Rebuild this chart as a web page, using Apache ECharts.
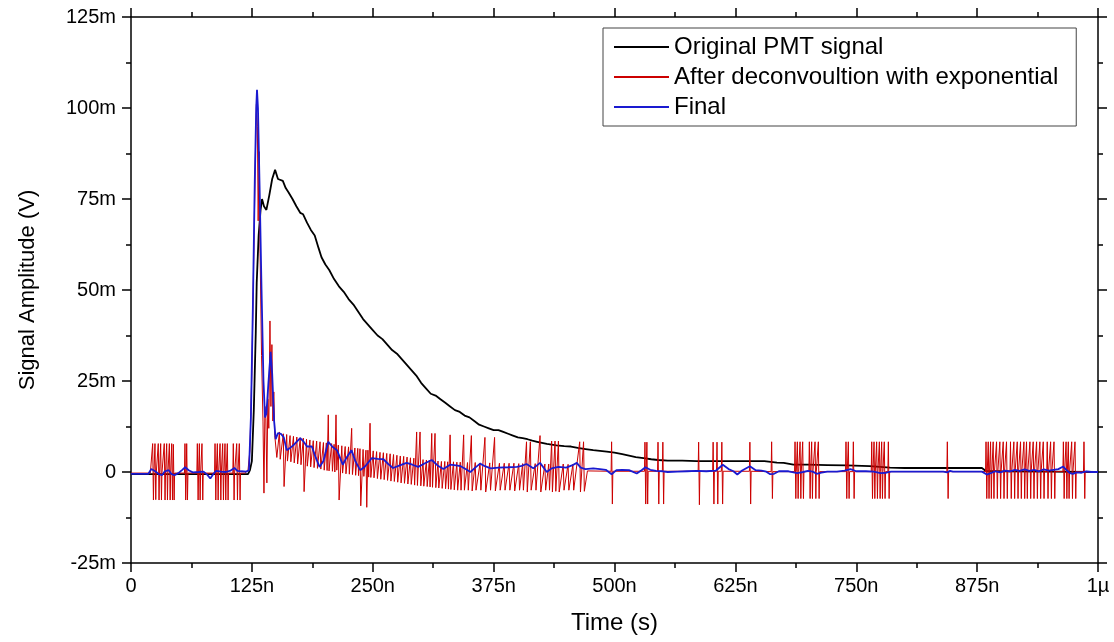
<!DOCTYPE html>
<html>
<head>
<meta charset="utf-8">
<script src="https://cdn.jsdelivr.net/npm/echarts@6/dist/echarts.min.js"></script>
<style>
html,body{margin:0;padding:0;background:#fff;}
#chart{width:1114px;height:642px;}
</style>
</head>
<body>
<div id="chart"></div>
<script>
// ---- Data (time in ns, amplitude in mV) ----
const seriesNames = ['Original PMT signal', 'After deconvoultion with exponential', 'Final'];
const xTicks = [0, 125, 250, 375, 500, 625, 750, 875, 1000];
const yTicks = [-25, 0, 25, 50, 75, 100, 125];

const originalPMT = [
  [0,-0.6],[60,-0.6],[121,-0.6],[123,0.5],[125,3],[127,17],[129,38],[130,52],[132,65],[134,72],
  [135.5,75],[137.5,73],[140,72],[143,76],[146,80.5],[149,83],[152,80.5],[157,80],[160,78],
  [163,76.8],[167,75],[171,73],[175,71.2],[178,70.8],[182,68.5],[186,66.5],[190,65],[194,61.5],
  [197,59],[201,57],[205,55.5],[210,53],[215,51],[220,49.5],[225,47.5],[230,46],[235,44],
  [240,42],[245,40.5],[250,39],[255,37.5],[260,36.5],[265,35],[270,33.5],[275,32.5],[280,31],
  [285,29.5],[290,28],[295,26.5],[300,24.5],[305,23],[310,21.5],[315,21],[320,20],[325,19],
  [330,18],[335,17],[340,16.5],[345,15.5],[350,15],[355,14],[360,13],[365,12.5],[370,12],
  [375,11.5],[380,11.5],[385,11],[390,10.5],[395,10],[400,9.5],[405,9.3],[410,9],[415,8.6],
  [420,8.3],[425,8],[430,7.7],[435,7.5],[440,7.3],[448,7.1],[455,7],[462,6.6],[470,6.3],
  [478,6],[485,5.8],[492,5.6],[500,5.3],[508,4.9],[515,4.5],[522,4.1],[530,3.8],[538,3.5],
  [545,3.3],[555,3.1],[570,3.1],[585,3],[600,3],[620,3],[640,3],[655,3],[668,2.6],[675,2.5],
  [685,2],[700,2],[720,1.9],[740,1.8],[764,1.6],[785,1.2],[800,1.1],[840,1.1],[880,1.1],
  [884,0.3],[900,0.2],[950,0.1],[1000,0]
];

const finalSignal = [
  [0,-0.5],[18,-0.5],[21,0.8],[25,0.2],[29,-0.6],[32,-0.9],[35,0.2],[39,0.5],[42,-0.6],[45,-0.9],
  [49,-0.3],[53,0.6],[56,1.3],[60,0.4],[64,-0.1],[70,0],[75,0.1],[79,-0.8],[82,-1.8],[85,-0.6],
  [88,0.3],[93,0.1],[98,0],[103,0.4],[107,1.1],[110,0.3],[114,0.2],[119,0.1],[122,0.5],[124,15],
  [126,45],[128,80],[129.5,100],[130.3,105],[131.3,100],[133,78],[135,50],[137,25],[138.6,15],
  [140,16],[142,24],[144.4,33],[146,27],[148,14],[149.6,9],[152,10.7],[155,10.5],[158,9.5],
  [161,6],[164,6.5],[168,7.4],[172,8.5],[175,9.3],[178,8.5],[182,7],[187,7],[191,4],[195,1.4],
  [199,3],[204,8.3],[208,7],[213,6],[216,4],[219,2],[223,4],[228,6],[232,3],[237,0.5],[242,1.5],
  [249,3.8],[255,3.6],[261,3.5],[266,2.2],[271,1.1],[278,1.8],[285,2.5],[291,2],[297,1.4],
  [304,2.4],[311,3.3],[317,1.8],[323,0.8],[330,2],[336,1.8],[341,1.6],[346,0.8],[351,0],
  [356,1.2],[361,2.3],[366,1.6],[372,1],[380,1.2],[390,1.3],[399,1.4],[404,1.7],[409,2.2],
  [416,1],[423,2.5],[430,0],[435,1],[442,1.4],[450,1.2],[456,1.8],[461,2.5],[465,1.2],[470,0.8],
  [478,1],[485,0.8],[491,0.6],[497,-0.6],[502,0.5],[508,0.6],[515,0.5],[523,-0.4],[528,0.5],
  [532,1.3],[537,0.6],[543,0.3],[550,0.2],[555,0],[565,0.1],[575,0.2],[585,0.3],[595,0.2],
  [605,0.4],[612,2],[618,0.8],[623,0.2],[627,-0.7],[632,0.4],[640,1.6],[646,0.5],[652,0.4],
  [657,0.1],[661,-0.6],[665,-0.5],[670,0.2],[680,0.2],[689,-0.3],[695,0],[700,0.3],[705,0.1],
  [709,-0.5],[714,-0.2],[720,0.1],[730,0.1],[738,0.4],[744,0.8],[750,0.2],[760,0.2],[768,0.1],
  [775,-0.3],[781,-0.2],[786,0.1],[800,0.1],[820,0.1],[840,0.1],[844,-0.1],[847,0.3],[850,0.1],
  [870,0.1],[880,0.1],[885,-0.7],[889,-0.3],[894,0.2],[899,-0.1],[904,0.4],[909,0.2],[914,0.6],
  [919,0.3],[924,0.7],[929,0.3],[934,0.6],[939,0.2],[944,0.7],[949,0.4],[954,0.6],[959,0.8],
  [964,1.5],[968,0.4],[971,-0.3],[974,-0.5],[978,-0.1],[983,-0.2],[988,0.2],[993,0],[1000,0]
];

// Deconvolved trace: isolated spikes before the pulse [t, high, low, base]
const deconvPreSpikes = [
  [22.4,7.8,-7.7,-0.3],[24.8,7.8,-7.6,-0.3],[28.2,7.8,-7.7,-0.3],[30.7,7.8,-7.7,-0.3],
  [34.4,7.8,-7.7,-0.3],[36.9,7.8,-7.7,-0.3],[39.7,7.8,-7.7,-0.3],[42.1,7.8,-7.7,-0.3],
  [43.8,7.6,-7.7,-0.3],[55.8,7.8,-7.7,-0.3],[57.6,7.8,-7.7,-0.3],[68.6,7.8,-7.7,-0.3],
  [70.7,7.8,-7.7,-0.3],[73.4,7.8,-7.7,-0.3],[86.9,7.8,-7.7,-0.3],[89.3,7.8,-7.7,-0.3],
  [92.1,7.8,-7.7,-0.3],[94.8,7.8,-7.7,-0.3],[97.2,7.8,-7.7,-0.3],[99.6,7.8,-7.7,-0.3],
  [105.8,7.8,-7.7,-0.3],[109.3,7.8,-7.7,-0.3],[112,7.8,-7.7,-0.3]
];
// Deconvolved trace around the main pulse [t, v]
const deconvPeak = [
  [118,-0.3],[121,0.5],[123,6],[125,28],[127,60],[128.5,85],[129.7,101],[130.7,95],[131.5,69],
  [132.5,88],[133.5,60],[135,32],[136.5,14],[137.5,-5.8],[138.5,18],[139.5,14.6],[140.5,-3],
  [141.5,20],[142.5,12],[143.7,41.5],[144.7,18],[145.7,35],[146.7,14],[147.7,22],[148.7,10]
];
// Deconvolved trace: dense oscillation in the tail [t, high, low]
const deconvBand = [
  [150,10.5,4],[153.5,11,3.5],[157.5,10.5,-4],[161,10.3,3],[164.5,10,2.8],[168,9.8,2.5],
  [171.5,9.6,2.2],[175,9.4,2],[178.2,9.3,-5.4],[181.5,9,1.6],[185,8.8,1.4],[188.5,8.6,1.2],
  [192,8.5,1],[195.5,8.3,0.8],[199,8.1,0.5],[202,8,0.4],[204,15.7,0.3],[207.5,7.8,0.2],
  [210,7.6,0],[212,15.7,0.5],[214.4,7.4,-7.7],[218,7.2,-0.3],[221.5,7,-0.5],[225,6.9,-0.6],
  [228.2,12,-0.7],[231.5,6.6,-0.9],[234.5,6.5,-1],[236.8,6.4,-9.3],[240,6.2,-1.2],[243,6,-9.7],
  [245,6,-1.4],[247.2,13.4,-1.5],[250.5,5.8,-1.6],[254,5.6,-1.8],[257.5,5.4,-2],[261,5.3,-2.1],
  [264.5,5.1,-2.3],[268,5,-2.5],[271.5,4.8,-2.6],[275,4.6,-2.8],[278.5,4.4,-3],[282,4.3,-3.1],
  [285.5,4.1,-3.3],[289,3.9,-3.4],[292.5,3.8,-3.6],[295.4,11,-3.7],[298.9,11,-3.8],[302,3.4,-3.9],
  [305.5,3.3,-4],[308.5,3.2,-4.1],[311,10.6,-4.2],[314.4,10.6,-4.3],[317.5,3,-4.4],[321,2.9,-4.5],
  [324.5,2.9,-4.6],[327.5,2.8,-4.7],[330,10.2,-4.8],[333.5,2.8,-4.9],[337,2.7,-5],[340.5,2.7,-5],
  [344,10.2,-5],[348,2.6,-5],[352,10,-5.2],[356,2.6,-5],[361,2.5,-5],[366,9.5,-5.5],[371,2.5,-5],
  [376,9.5,-5.2],[381,2.4,-5],[386,2.4,-5],[391,2.4,-5],[396,2.4,-5.2],[401,2.3,-5],[405,2.3,-5],
  [409,8.3,-5.5],[413,8.3,-5],[418,2.3,-5],[423,10,-5.5],[428,2.2,-5],[432,2.2,-5],[435,8.5,-5.5],
  [438.5,8.5,-5.3],[442,8.5,-5.5],[447,2.2,-5],[452,2.1,-5],[457,2.1,-5],[464,8.3,-5.5],[468,8.3,-5.3]
];
// Deconvolved trace: isolated spikes late in the record [t, high, low, base]
const deconvLateSpikes = [
  [497,8.3,-8.8,0.2],[531.5,8.2,-8.8,0.2],[533.5,8.2,-8.8,0.2],[545,8.2,-8.8,0.2],[550,8.2,-8.8,0.2],
  [587,8.2,-9,0.2],[602,8.2,-8.8,0.2],[606,8.2,-8.8,0.2],[611,8.2,-8.8,0.2],[640,8.2,-8.8,0.2],
  [662.5,8.3,-7.3,0.1],[686.7,8.3,-7.3,0.1],[689.1,8.3,-7.3,0.1],[691.9,8.3,-7.3,0.1],[694.6,8.3,-7.3,0.1],
  [701.5,8.3,-7.3,0.1],[703.9,8.3,-7.3,0.1],[707.4,8.3,-7.3,0.1],[710.8,8.3,-7.3,0.1],
  [739.4,8.3,-7.3,0.1],[741.8,8.3,-7.3,0.1],[747,8.3,-7.3,0.1],
  [766,8.3,-7.3,0.1],[768.4,8.3,-7.3,0.1],[771.1,8.3,-7.3,0.1],[773.9,8.3,-7.3,0.1],[776.3,8.3,-7.3,0.1],
  [779,8.3,-7.3,0.1],[783.2,8.3,-7.3,0.1],[844.2,8.3,-7.3,0.1],
  [884.2,8.3,-7.3,0.1],[886.5,8.3,-7.3,0.1],[888.9,8.3,-7.3,0.1],[891.6,8.3,-7.3,0.1],[895.1,8.3,-7.3,0.1],
  [898.5,8.3,-7.3,0.1],[902,8.3,-7.3,0.1],[905.4,8.3,-7.3,0.1],[909.5,8.3,-7.3,0.1],[913,8.3,-7.3,0.1],
  [916.5,8.3,-7.3,0.1],[919.9,8.3,-7.3,0.1],[923.4,8.3,-7.3,0.1],[926.1,8.3,-7.3,0.1],[929.6,8.3,-7.3,0.1],
  [933,8.3,-7.3,0.1],[936.5,8.3,-7.3,0.1],[939.9,8.3,-7.3,0.1],[943.4,8.3,-7.3,0.1],[947.5,8.3,-7.3,0.1],
  [951,8.3,-7.3,0.1],[954.5,8.3,-7.3,0.1],[964.2,8.3,-7.3,0.1],[967,8.3,-7.3,0.1],[969.3,8.3,-7.3,0.1],
  [972.8,8.3,-7.3,0.1],[976.2,8.3,-7.3,0.1],[985.5,8.3,-7.3,0.1]
];
const deconvFlat = [[0,-0.3],[20,-0.3],[472,0.3],[1000,0]];

// ---- Build deconvolved trace for the library ----
function spikesToPoints(rows) {
  const pts = [];
  rows.forEach(r => {
    const [t, hi, lo, base] = r;
    if (base !== undefined) pts.push([t - 0.5, base]);
    pts.push([t, hi]);
    pts.push([t + 0.8, lo]);
    if (base !== undefined) pts.push([t + 1.3, base]);
  });
  return pts;
}
const deconvolved = [].concat(
  deconvFlat, spikesToPoints(deconvPreSpikes), deconvPeak,
  spikesToPoints(deconvBand), spikesToPoints(deconvLateSpikes)
).sort((a, b) => a[0] - b[0]);

const chart = echarts.init(document.getElementById('chart'), null, {renderer: 'canvas'});
const sansFont = "'Liberation Sans', Arial, sans-serif";
const narrowFont = "'Liberation Sans Narrow', 'Arial Narrow', 'Liberation Sans', sans-serif";

const axisCommon = {
  axisLine: {show: true, onZero: false, lineStyle: {color: '#000', width: 1.5}},
  axisTick: {show: true, inside: false, length: 9, lineStyle: {color: '#000', width: 1.5}},
  minorTick: {show: true, splitNumber: 2, length: 5, lineStyle: {color: '#000', width: 1.5}},
  splitLine: {show: false},
  minorSplitLine: {show: false}
};

chart.setOption({
  animation: false,
  backgroundColor: '#fff',
  grid: {left: 131, right: 16, top: 17, bottom: 79, containLabel: false},
  legend: {
    orient: 'vertical',
    left: 603, top: 28,
    itemWidth: 55, itemHeight: 14, itemGap: 6,
    padding: [7, 18, 7, 10],
    borderColor: '#444', borderWidth: 1,
    backgroundColor: '#fff',
    itemStyle: {opacity: 0},
    textStyle: {fontSize: 24, lineHeight: 23, fontFamily: sansFont, color: '#000'},
    data: seriesNames
  },
  xAxis: [
    Object.assign({
      type: 'value', position: 'bottom', min: xTicks[0], max: xTicks[xTicks.length - 1], interval: 125,
      name: 'Time (s)', nameLocation: 'middle', nameGap: 48,
      nameTextStyle: {fontSize: 24, fontFamily: narrowFont, color: '#000'},
      axisLabel: {
        margin: 13, fontSize: 20, fontFamily: narrowFont, color: '#000',
        formatter: v => v === 0 ? '0' : (v === 1000 ? '1\u00b5' : v + 'n')
      }
    }, axisCommon),
    Object.assign({
      type: 'value', position: 'top', min: xTicks[0], max: xTicks[xTicks.length - 1], interval: 125,
      axisLabel: {show: false}
    }, axisCommon)
  ],
  yAxis: [
    Object.assign({
      type: 'value', position: 'left', min: yTicks[0], max: yTicks[yTicks.length - 1], interval: 25,
      name: 'Signal Amplitude (V)', nameLocation: 'middle', nameGap: 92,
      nameTextStyle: {fontSize: 22, fontFamily: sansFont, color: '#000'},
      axisLabel: {
        margin: 15, fontSize: 20, fontFamily: sansFont, color: '#000',
        formatter: v => v === 0 ? '0' : v + 'm'
      }
    }, axisCommon),
    Object.assign({
      type: 'value', position: 'right', min: yTicks[0], max: yTicks[yTicks.length - 1], interval: 25,
      axisLabel: {show: false}
    }, axisCommon)
  ],
  series: [
    {
      name: seriesNames[0], type: 'line', data: originalPMT, symbol: 'none', showSymbol: false,
      lineStyle: {color: '#000', width: 1.8}, itemStyle: {color: '#000'}, z: 2
    },
    {
      name: seriesNames[1], type: 'line', data: deconvolved, symbol: 'none', showSymbol: false,
      sampling: undefined,
      lineStyle: {color: '#cc0000', width: 1}, itemStyle: {color: '#cc0000'}, z: 3
    },
    {
      name: seriesNames[2], type: 'line', data: finalSignal, symbol: 'none', showSymbol: false,
      lineStyle: {color: '#1a1ad0', width: 1.8}, itemStyle: {color: '#1a1ad0'}, z: 4
    }
  ]
});
</script>
</body>
</html>
